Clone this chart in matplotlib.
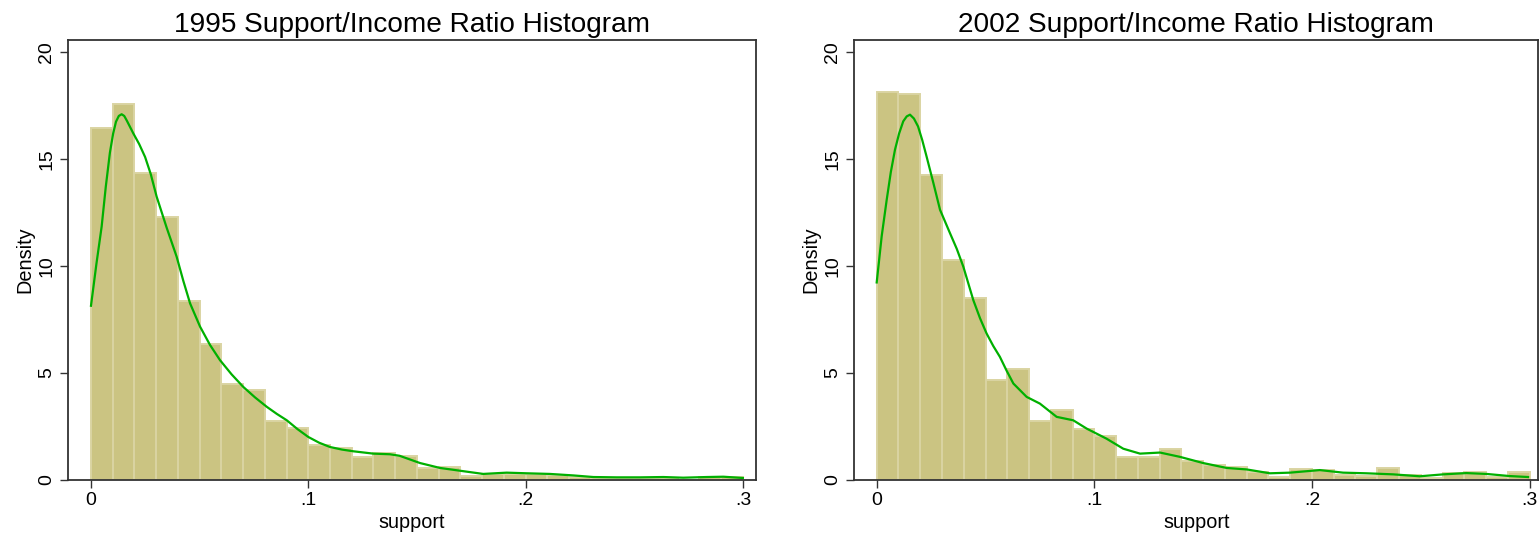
import matplotlib
matplotlib.use("Agg")
import matplotlib.pyplot as plt
import numpy as np

plt.rcParams['font.family'] = ['Liberation Sans', 'DejaVu Sans']

# ---------------- data ----------------
bin_width = 0.01
bin_left = [round(i * 0.01, 2) for i in range(30)]

density_1995 = [16.45, 17.58, 14.34, 12.30, 8.36, 6.34, 4.50, 4.20, 2.77, 2.42,
                1.63, 1.48, 1.08, 1.27, 1.11, 0.55, 0.61, 0.16, 0.27, 0.27,
                0.27, 0.23, 0.14, 0.10, 0.10, 0.10, 0.10, 0.00, 0.12, 0.14]

density_2002 = [18.14, 18.06, 14.27, 10.28, 8.52, 4.66, 5.20, 2.73, 3.25, 2.39,
                2.06, 1.08, 1.08, 1.42, 0.89, 0.69, 0.58, 0.34, 0.14, 0.50,
                0.47, 0.22, 0.16, 0.55, 0.22, 0.10, 0.31, 0.34, 0.14, 0.36]

kde_x_1995 = [0.0, 0.0025, 0.0049, 0.0068, 0.0087, 0.0102, 0.0115, 0.0128, 0.0141,
              0.0153, 0.0165, 0.018, 0.0195, 0.0222, 0.0249, 0.0275, 0.0302,
              0.0348, 0.0394, 0.0425, 0.0456, 0.0502, 0.0548, 0.0594, 0.0647,
              0.0701, 0.0755, 0.0809, 0.0855, 0.0901, 0.095, 0.1,
              0.105, 0.110, 0.1155, 0.1207, 0.1299, 0.1376, 0.142, 0.1467, 0.1514,
              0.1606, 0.1698, 0.1805, 0.1913, 0.2005, 0.2112, 0.222, 0.2312,
              0.2419, 0.2527, 0.2634, 0.2726, 0.2833, 0.291, 0.3]
kde_y_1995 = [8.14, 10.1, 11.84, 13.7, 15.3, 16.2, 16.75, 17.02, 17.1,
              17.02, 16.8, 16.5, 16.2, 15.7, 15.1, 14.3, 13.25,
              11.8, 10.44, 9.3, 8.25, 7.16, 6.3, 5.59, 4.93,
              4.34, 3.85, 3.41, 3.08, 2.78, 2.37, 2.0,
              1.73, 1.53, 1.41, 1.33, 1.22, 1.19, 1.12, 0.95, 0.78,
              0.55, 0.42, 0.27, 0.33, 0.30, 0.27, 0.20, 0.125,
              0.11, 0.11, 0.125, 0.094, 0.125, 0.14, 0.08]

kde_x_2002 = [0.0, 0.0023, 0.0046, 0.0065, 0.0084, 0.0103, 0.0122, 0.0138, 0.0153,
              0.0171, 0.019, 0.0209, 0.0229, 0.026, 0.0291, 0.0337,
              0.0368, 0.0398, 0.0444, 0.0475, 0.0505, 0.0536, 0.0566, 0.0597,
              0.0628, 0.0689, 0.075, 0.0827, 0.0903, 0.0965, 0.1056, 0.1133,
              0.121, 0.1302, 0.1393, 0.1500, 0.1608, 0.17, 0.1807, 0.1899,
              0.2036, 0.2143, 0.225, 0.2373, 0.2496, 0.2603, 0.2710, 0.2802,
              0.2909, 0.2993]
kde_y_2002 = [9.23, 11.4, 13.1, 14.4, 15.44, 16.2, 16.77, 17.0, 17.08,
              16.9, 16.53, 15.9, 15.13, 13.9, 12.63, 11.53,
              10.8, 9.97, 8.4, 7.55, 6.84, 6.25, 5.75, 5.1,
              4.5, 3.875, 3.56, 2.94, 2.78, 2.39, 1.92, 1.45,
              1.22, 1.27, 1.07, 0.78, 0.55, 0.48, 0.30, 0.33,
              0.45, 0.33, 0.30, 0.25, 0.16, 0.25, 0.31, 0.27,
              0.17, 0.125]

titles = ["1995 Support/Income Ratio Histogram", "2002 Support/Income Ratio Histogram"]
x_ticks = [0, 0.1, 0.2, 0.3]
x_ticklabels = ["0", ".1", ".2", ".3"]
y_ticks = [0, 5, 10, 15, 20]
y_ticklabels = ["0", "5", "10", "15", "20"]

# ---------------- style ----------------
W, H = 1539, 539
bar_color = "#CBC482"
edge_color = "#DAD4A2"
line_color = "#00B000"
spine_color = "#333333"

fig = plt.figure(figsize=(W / 100, H / 100), dpi=100)

panels = [
    dict(px=(68, 755.7), py=(40.3, 479.7), xlim=(-0.01058, 0.3059),
         dens=density_1995, kx=kde_x_1995, ky=kde_y_1995, title=titles[0]),
    dict(px=(854, 1538.5), py=(40.3, 479.7), xlim=(-0.01043, 0.3041),
         dens=density_2002, kx=kde_x_2002, ky=kde_y_2002, title=titles[1]),
]

for p in panels:
    x0, x1 = p["px"]
    y0, y1 = p["py"]
    ax = fig.add_axes([x0 / W, 1 - y1 / H, (x1 - x0) / W, (y1 - y0) / H])
    ax.bar(bin_left, p["dens"], width=bin_width, align="edge",
           color=bar_color, edgecolor=edge_color, linewidth=1.4, zorder=2)
    ax.plot(p["kx"], p["ky"], color=line_color, linewidth=1.6, zorder=3,
            solid_joinstyle="round")
    ax.set_xlim(*p["xlim"])
    ax.set_ylim(0, 20.56)
    ax.set_xticks(x_ticks)
    ax.set_xticklabels(x_ticklabels, fontsize=14)
    ax.set_yticks(y_ticks)
    ax.set_yticklabels(y_ticklabels, fontsize=14, rotation=90, va="center")
    ax.tick_params(direction="out", length=6, width=1.0, color=spine_color, pad=3)
    for s in ax.spines.values():
        s.set_color(spine_color)
        s.set_linewidth(1.3)
    ax.set_xlabel("support", fontsize=14.3, labelpad=3)
    ax.set_ylabel("Density", fontsize=14.3, labelpad=3)
    ax.set_title(p["title"], fontsize=20.2, pad=6)

fig.savefig("out.png", dpi=100)
